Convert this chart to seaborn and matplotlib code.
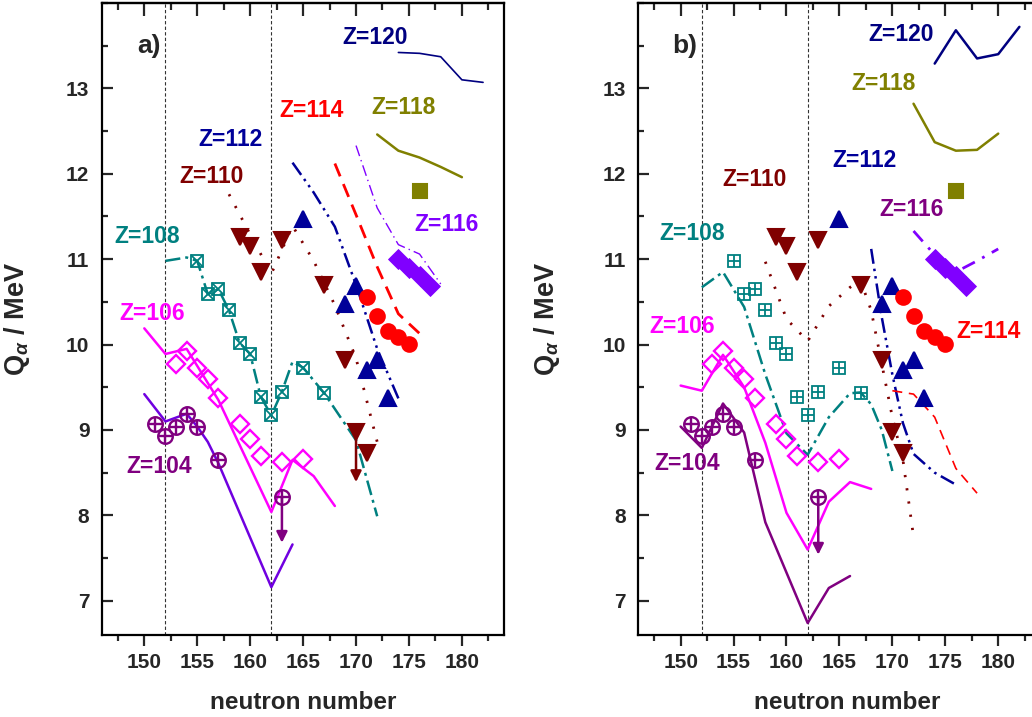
import matplotlib
matplotlib.use("Agg")
import matplotlib.pyplot as plt
import seaborn as sns
from matplotlib.ticker import MultipleLocator, FixedLocator

# measured Q-alpha values (same in both panels)
z104_n = [151, 152, 153, 154, 155, 157, 163]
z104_q = [9.07, 8.93, 9.04, 9.19, 9.04, 8.65, 8.21]
z106_n = [153, 154, 155, 156, 157, 159, 160, 161, 163, 165]
z106_q = [9.77, 9.92, 9.73, 9.60, 9.38, 9.07, 8.90, 8.70, 8.62, 8.66]
z108_n = [155, 156, 157, 158, 159, 160, 161, 162, 163, 165, 167]
z108_q = [10.98, 10.59, 10.65, 10.40, 10.02, 9.89, 9.39, 9.17, 9.45, 9.73, 9.43]
z110_n = [159, 160, 161, 163, 167, 169, 170, 171]
z110_q = [11.26, 11.15, 10.85, 11.23, 10.70, 9.82, 8.98, 8.73]
z112_n = [165, 169, 170, 171, 172, 173]
z112_q = [11.47, 10.48, 10.69, 9.70, 9.82, 9.37]
z114_n = [171, 172, 173, 174, 175]
z114_q = [10.56, 10.34, 10.16, 10.09, 10.01]
z116_n = [174, 175, 176, 177]
z116_q = [11.00, 10.90, 10.80, 10.69]
z118_n = [176]
z118_q = [11.80]

# upper limits: (N, Q from, Q to, colour)
limits_a = [(163, 8.21, 7.68, "#800080"), (170, 8.98, 8.39, "#800000")]
limits_b = [(163, 8.21, 7.54, "#800080")]

# calculated values, panel a
a104_n = [150, 152, 154, 155, 156, 157, 162, 164]
a104_q = [9.42, 9.10, 9.19, 9.04, 8.86, 8.61, 7.16, 7.66]
a106_n = [150, 152, 154, 157, 162, 164, 166, 168]
a106_q = [10.19, 9.89, 9.95, 9.35, 8.04, 8.65, 8.46, 8.11]
a108_n = [152, 154, 155, 156, 157, 158, 159, 160, 161, 162, 163, 164, 165, 167, 170, 172]
a108_q = [10.98, 11.02, 10.98, 10.59, 10.65, 10.40, 10.02, 9.89, 9.39, 9.17, 9.45, 9.80, 9.73, 9.43, 8.88, 7.99]
a110_n = [158, 160, 162, 164, 166, 168, 170, 172]
a110_q = [11.76, 11.29, 10.83, 11.39, 10.98, 10.46, 9.84, 8.86]
a112_n = [164, 166, 168, 170, 172, 174]
a112_q = [12.13, 11.78, 11.38, 10.70, 9.95, 9.37]
a114_n = [168, 170, 172, 174, 176]
a114_q = [12.12, 11.52, 10.91, 10.36, 10.13]
a116_n = [170, 172, 174, 176, 178]
a116_q = [12.33, 11.60, 11.17, 11.06, 10.71]
a118_n = [172, 174, 176, 178, 180]
a118_q = [12.46, 12.27, 12.19, 12.08, 11.96]
a120_n = [174, 176, 178, 180, 182]
a120_q = [13.42, 13.41, 13.37, 13.10, 13.07]

# calculated values, panel b
b104_n = [150, 152, 154, 156, 158, 160, 162, 164, 166]
b104_q = [9.04, 8.79, 9.31, 8.97, 7.92, 7.33, 6.74, 7.15, 7.29]
b106_n = [150, 152, 154, 156, 158, 160, 162, 164, 166, 168]
b106_q = [9.52, 9.46, 9.88, 9.50, 8.85, 8.03, 7.60, 8.16, 8.39, 8.31]
b108_n = [152, 154, 156, 158, 160, 162, 164, 166, 167, 168, 169, 170]
b108_q = [10.67, 10.85, 10.44, 9.65, 8.96, 8.71, 9.15, 9.43, 9.44, 9.30, 9.00, 8.52]
b110_n = [158, 160, 162, 164, 166, 167, 168, 170, 171, 172]
b110_q = [10.97, 10.30, 10.04, 10.45, 10.67, 10.75, 10.40, 9.15, 8.65, 7.75]
b112_n = [168, 169, 170, 171, 172, 174, 176]
b112_q = [11.12, 10.32, 9.65, 9.08, 8.72, 8.50, 8.36]
b114_n = [170, 172, 174, 175, 176, 178]
b114_q = [9.46, 9.42, 9.15, 8.85, 8.55, 8.26]
b116_n = [172, 174, 176, 178, 180]
b116_q = [11.33, 11.05, 10.85, 10.98, 11.12]
b118_n = [172, 174, 176, 178, 180]
b118_q = [12.82, 12.37, 12.27, 12.28, 12.47]
b120_n = [174, 176, 178, 180, 182]
b120_q = [13.29, 13.68, 13.35, 13.40, 13.72]

shell_n = [152, 162]

label_text = ["Z=104", "Z=106", "Z=108", "Z=110", "Z=112", "Z=114", "Z=116", "Z=118", "Z=120"]
label_pos_a = [(151.4, 8.57), (150.7, 10.36), (150.25, 11.26), (156.4, 11.97), (158.1, 12.40),
               (165.8, 12.74), (178.55, 11.41), (174.45, 12.78), (171.8, 13.59)]
label_pos_b = [(150.6, 8.61), (150.1, 10.21), (151.1, 11.30), (156.95, 11.93), (167.4, 12.16),
               (179.05, 10.15), (171.8, 11.58), (169.13, 13.06), (170.87, 13.63)]
label_col_a = ["#800080", "#ff00ff", "#008080", "#800000", "#000099", "#ff0000", "#8000ff", "#808000", "#000080"]
label_col_b = ["#800080", "#ff00ff", "#008080", "#800000", "#000099", "#ff0000", "#800080", "#808000", "#000080"]

sns.set_style("ticks")
plt.rcParams["font.family"] = ["Liberation Sans", "DejaVu Sans"]
plt.rcParams["font.weight"] = "bold"
plt.rcParams["mathtext.fontset"] = "custom"
plt.rcParams["mathtext.rm"] = "Liberation Sans:bold"
plt.rcParams["mathtext.it"] = "Liberation Sans:bold:italic"
plt.rcParams["mathtext.bf"] = "Liberation Sans:bold"

DASHDOT = (0, (6, 2, 1.2, 2))
DOTTED = (0, (0.8, 4.0))
DASHDOTDOT = (0, (6, 2, 1, 2, 1, 2))


def line(ax, n, q, color, ls="-", lw=1.8):
    sns.lineplot(x=n, y=q, ax=ax, color=color, linestyle=ls, linewidth=lw,
                 estimator=None, sort=False, legend=False)


def marks(ax, n, q, color, marker, ms, fill=True, mew=1.5, overlay=None):
    sns.lineplot(x=n, y=q, ax=ax, color=color, linestyle="", marker=marker, ms=ms,
                 mec=color, mfc=color if fill else "none", mew=mew,
                 estimator=None, sort=False, legend=False)
    if overlay:
        sns.lineplot(x=n, y=q, ax=ax, color=color, linestyle="", marker=overlay, ms=ms,
                     mec=color, mew=mew, estimator=None, sort=False, legend=False)


def frame(ax, tag, lx, labels_pos, labels_col):
    ax.set_xlim(146, 184)
    ax.set_ylim(6.6, 14.0)
    for n0 in shell_n:
        ax.axvline(n0, color="#333333", ls=(0, (3, 2)), lw=0.8, zorder=0)
    ax.xaxis.set_major_locator(FixedLocator([150, 155, 160, 165, 170, 175, 180]))
    ax.xaxis.set_minor_locator(MultipleLocator(2.5))
    ax.yaxis.set_major_locator(FixedLocator([7, 8, 9, 10, 11, 12, 13]))
    ax.yaxis.set_minor_locator(MultipleLocator(0.5))
    ax.tick_params(axis="x", which="both", direction="out", width=1.6, labelsize=15, pad=5)
    ax.tick_params(axis="x", which="major", length=8)
    ax.tick_params(axis="x", which="minor", length=4)
    ax.tick_params(axis="y", which="both", direction="in", width=1.6, labelsize=15, pad=9, right=False)
    ax.tick_params(axis="y", which="major", length=8)
    ax.tick_params(axis="y", which="minor", length=4.5)
    top = ax.secondary_xaxis("top")
    top.xaxis.set_major_locator(MultipleLocator(5))
    top.xaxis.set_minor_locator(MultipleLocator(2.5))
    top.tick_params(which="both", direction="in", width=1.6, labeltop=False)
    top.tick_params(which="major", length=9)
    top.tick_params(which="minor", length=5)
    top.spines["top"].set_linewidth(1.6)
    for s in ax.spines.values():
        s.set_linewidth(1.6)
        s.set_color("black")
    ax.set_xlabel("neutron number", fontsize=17.5, fontweight="bold")
    ax.xaxis.set_label_coords(0.5 + lx, -0.088)
    ax.set_ylabel(r"Q$_{\alpha}$ / MeV", fontsize=19.5, fontweight="bold")
    ax.text(150.4, 13.5, tag, fontsize=19, fontweight="bold", ha="center", va="center")
    for t, (x, y), c in zip(label_text, labels_pos, labels_col):
        ax.text(x, y, t, color=c, fontsize=16.5, fontweight="bold", ha="center", va="center")


def upper_limits(ax, lims):
    for n0, q0, q1, c in lims:
        ax.annotate("", xy=(n0, q1), xytext=(n0, q0),
                    arrowprops=dict(arrowstyle="-|>", color=c, lw=1.8, mutation_scale=16,
                                    shrinkA=0, shrinkB=0))


def measured(ax, sq_overlay):
    marks(ax, z104_n, z104_q, "#800080", "o", 10.5, fill=False, mew=1.7, overlay="+")
    marks(ax, z106_n, z106_q, "#ff00ff", "D", 9, fill=False, mew=1.7)
    marks(ax, z108_n, z108_q, "#008080", "s", 9, fill=False, mew=1.3, overlay=sq_overlay)
    marks(ax, z110_n, z110_q, "#800000", "v", 12)
    marks(ax, z112_n, z112_q, "#000099", "^", 12)
    marks(ax, z114_n, z114_q, "#ff0000", "o", 10.5)
    marks(ax, z116_n, z116_q, "#8000ff", "D", 10.5, mew=0.6)
    marks(ax, z118_n, z118_q, "#808000", "s", 9.5)


fig = plt.figure(figsize=(10.32, 7.17), dpi=100)
ax_a = fig.add_axes([0.0988, 0.1144, 0.3898, 0.8815])
ax_b = fig.add_axes([0.6185, 0.1144, 0.3898, 0.8815])

# panel a
line(ax_a, a104_n, a104_q, "#7000e0")
line(ax_a, a106_n, a106_q, "#ff00ff")
line(ax_a, a108_n, a108_q, "#008080", DASHDOT)
line(ax_a, a110_n, a110_q, "#800000", DOTTED, 2.0)
line(ax_a, a112_n, a112_q, "#000099", DASHDOTDOT)
line(ax_a, a114_n, a114_q, "#ff0000", (0, (5, 3)), 2.0)
line(ax_a, a116_n, a116_q, "#8000ff", (0, (8, 3, 1, 3)), 1.0)
line(ax_a, a118_n, a118_q, "#808000")
line(ax_a, a120_n, a120_q, "#000080", "-", 1.2)
upper_limits(ax_a, limits_a)
measured(ax_a, "x")
frame(ax_a, "a)", 0.0, label_pos_a, label_col_a)
ax_a.yaxis.set_label_coords(-0.175, 0.5)

# panel b
line(ax_b, b104_n, b104_q, "#800080")
line(ax_b, b106_n, b106_q, "#ff00ff")
line(ax_b, b108_n, b108_q, "#008080", DASHDOT)
line(ax_b, b110_n, b110_q, "#800000", DOTTED, 2.0)
line(ax_b, b112_n, b112_q, "#000099", DASHDOTDOT)
line(ax_b, b114_n, b114_q, "#ff0000", (0, (6, 4)), 1.2)
line(ax_b, b116_n, b116_q, "#8000ff", (0, (5, 3, 1, 3)), 2.0)
line(ax_b, b118_n, b118_q, "#808000")
line(ax_b, b120_n, b120_q, "#000080")
upper_limits(ax_b, limits_b)
measured(ax_b, "+")
frame(ax_b, "b)", 0.02, label_pos_b, label_col_b)
ax_b.yaxis.set_label_coords(-0.19, 0.5)

fig.savefig("out.png", dpi=100)
